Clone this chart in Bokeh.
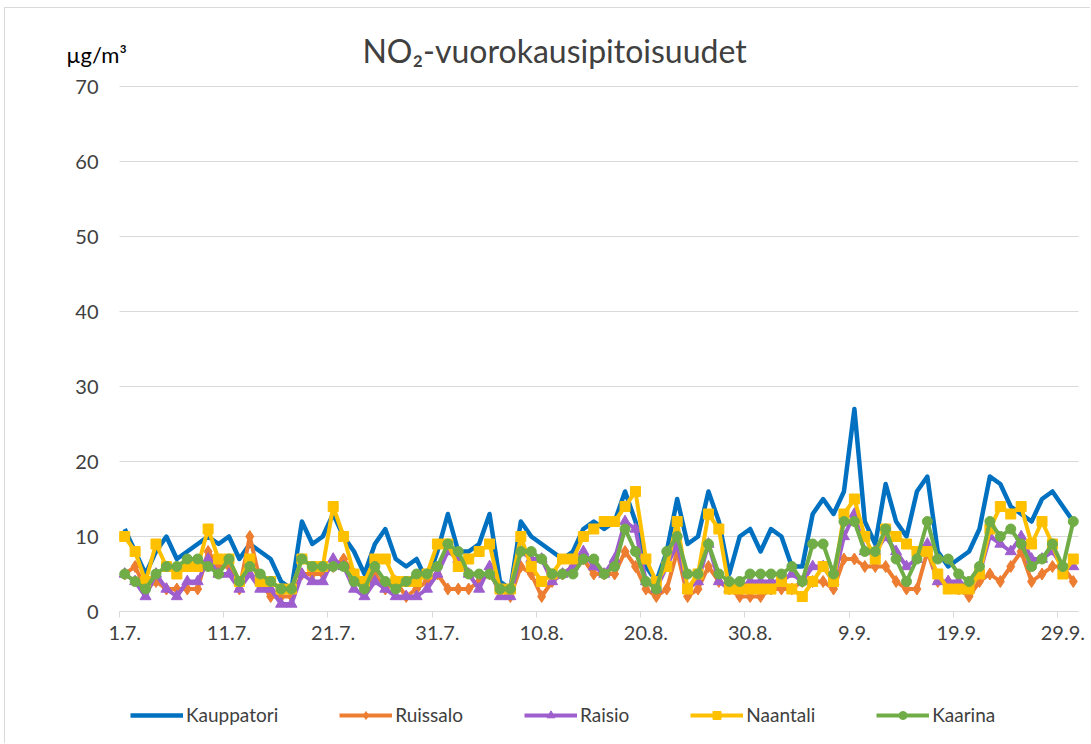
from bokeh.plotting import figure
from bokeh.models import (Range1d, FixedTicker, Legend, LegendItem, Label, LinearAxis,
                          ColumnDataSource, Grid)
from bokeh.embed import file_html
from bokeh.resources import INLINE

# ---- data ----
days = list(range(92))  # 1.7. ... 30.9.
tick_days = [0, 10, 20, 30, 40, 50, 60, 70, 80, 90]
tick_labels = ["1.7.", "11.7.", "21.7.", "31.7.", "10.8.", "20.8.", "30.8.", "9.9.", "19.9.", "29.9."]
y_ticks = [0, 10, 20, 30, 40, 50, 60, 70]

kauppatori = [11, 8, 5, 8, 10, 7, 8, 9, 10, 9,
              10, 7, 9, 8, 7, 4, 3, 12, 9, 10,
              13, 10, 8, 5, 9, 11, 7, 6, 7, 4,
              8, 13, 8, 8, 9, 13, 4, 3, 12, 10,
              9, 8, 7, 8, 11, 12, 11, 12, 16, 12,
              6, 4, 8, 15, 9, 10, 16, 12, 5, 10,
              11, 8, 11, 10, 6, 6, 13, 15, 13, 16,
              27, 12, 9, 17, 12, 10, 16, 18, 8, 6,
              7, 8, 11, 18, 17, 14, 13, 12, 15, 16,
              14, 12]
ruissalo = [5, 6, 3, 4, 3, 3, 3, 3, 8, 6,
            6, 3, 10, 4, 2, 2, 2, 5, 5, 5,
            6, 7, 5, 3, 5, 3, 4, 2, 3, 4,
            5, 3, 3, 3, 4, 5, 3, 2, 6, 5,
            2, 4, 5, 6, 7, 5, 5, 5, 8, 6,
            3, 2, 3, 8, 2, 3, 6, 4, 3, 2,
            2, 2, 3, 3, 3, 4, 4, 4, 3, 7,
            7, 6, 6, 6, 4, 3, 3, 8, 4, 4,
            3, 2, 4, 5, 4, 6, 8, 4, 5, 6,
            6, 4]
raisio = [5, 4, 2, 5, 3, 2, 4, 4, 7, 5,
          5, 3, 5, 3, 3, 1, 1, 5, 4, 4,
          7, 6, 3, 2, 4, 3, 2, 2, 2, 3,
          5, 8, 7, 5, 3, 6, 2, 2, 8, 7,
          7, 4, 5, 6, 8, 6, 5, 7, 12, 11,
          4, 3, 6, 9, 3, 4, 9, 4, 3, 3,
          4, 4, 4, 4, 5, 4, 6, 6, 4, 10,
          13, 8, 8, 10, 8, 6, 7, 9, 4, 4,
          4, 3, 5, 10, 9, 8, 10, 7, 7, 8,
          6, 6]
naantali = [10, 8, 4, 9, 6, 5, 6, 6, 11, 7,
            7, 4, 7, 4, 4, 3, 3, 7, 6, 6,
            14, 10, 5, 4, 7, 7, 4, 4, 4, 5,
            9, 9, 6, 7, 8, 9, 3, 3, 10, 6,
            4, 5, 7, 7, 10, 11, 12, 12, 14, 16,
            7, 4, 6, 12, 3, 5, 13, 11, 3, 3,
            3, 3, 3, 4, 3, 2, 4, 6, 4, 13,
            15, 10, 7, 11, 10, 9, 8, 8, 5, 3,
            3, 3, 5, 11, 14, 13, 14, 9, 12, 9,
            5, 7]
kaarina = [5, 4, 3, 5, 6, 6, 7, 7, 6, 5,
           7, 4, 6, 5, 4, 3, 3, 7, 6, 6,
           6, 6, 4, 3, 6, 4, 3, 4, 5, 5,
           6, 9, 8, 5, 5, 5, 3, 3, 8, 8,
           7, 5, 5, 5, 7, 7, 5, 6, 11, 8,
           4, 3, 8, 10, 5, 5, 9, 5, 4, 4,
           5, 5, 5, 5, 6, 4, 9, 9, 5, 12,
           12, 8, 8, 11, 7, 4, 7, 12, 7, 7,
           5, 4, 6, 12, 10, 11, 9, 6, 7, 9,
           6, 12]

series = [
    ("Kauppatori", kauppatori, "#0070C0", None, 0),
    ("Ruissalo", ruissalo, "#ED7D31", "diamond", 12),
    ("Raisio", raisio, "#9E5ECE", "triangle", 11),
    ("Naantali", naantali, "#FFC000", "square", 10),
    ("Kaarina", kaarina, "#70AD47", "circle", 10),
]

FONT = "Lato"
TXT = "#404040"

# ---- layout: the plot frame covers the whole canvas (1086 x 736);
# the data area (days -0.5..91.5, values 0..70) sits at 114..1073 px x 78..603 px
X0, X1 = -0.5, 91.5
Y0, Y1 = 0, 70
W, H = 1086, 736
L, R, T, B = 114, 13, 78, 133
xpx = (W - L - R) / (X1 - X0)
ypx = (H - T - B) / (Y1 - Y0)
x_lo, x_hi = X0 - L / xpx, X1 + R / xpx
y_lo, y_hi = Y0 - B / ypx, Y1 + T / ypx

p = figure(width=W, height=H, output_backend="svg", toolbar_location=None,
           x_range=Range1d(x_lo, x_hi), y_range=Range1d(y_lo, y_hi),
           min_border_left=0, min_border_right=0, min_border_top=0, min_border_bottom=0)
p.styles = {"margin-left": "4px", "margin-top": "7px",
            "border-left": "1px solid #d9d9d9", "border-top": "1px solid #d9d9d9"}
p.outline_line_color = None
p.background_fill_color = "white"
p.border_fill_color = "white"

p.xgrid.visible = False

p.yaxis.fixed_location = X0
p.yaxis.ticker = FixedTicker(ticks=y_ticks)
p.yaxis.axis_line_color = None
p.yaxis.minor_tick_line_color = None
p.yaxis.major_tick_out = 0
p.yaxis.major_label_standoff = 21
p.yaxis.major_label_text_font = FONT
p.yaxis.major_label_text_font_size = "20px"
p.yaxis.major_label_text_color = TXT

if "cross_bounds" in Grid.properties():
    p.ygrid.grid_line_color = "#d9d9d9"
    p.ygrid.grid_line_width = 1
    p.ygrid.cross_bounds = (X0, X1)
    p.yaxis.major_tick_line_color = None
    p.yaxis.major_tick_in = 0
else:
    # draw the horizontal gridlines as long inward ticks of the value axis
    p.ygrid.visible = False
    p.yaxis.major_tick_in = int(round((X1 - X0) * xpx))
    p.yaxis.major_tick_line_color = "#d9d9d9"
    p.yaxis.major_tick_line_width = 1
    p.yaxis.level = "underlay"

p.xaxis.fixed_location = Y0
p.xaxis.bounds = (X0, X1)
p.xaxis.ticker = FixedTicker(ticks=tick_days, minor_ticks=[d - 0.5 for d in tick_days])
p.xaxis.major_label_overrides = {d: l for d, l in zip(tick_days, tick_labels)}
p.xaxis.axis_line_color = "#d9d9d9"
p.xaxis.axis_line_width = 1
p.xaxis.major_tick_line_color = None
p.xaxis.major_tick_out = 0
p.xaxis.major_tick_in = 0
p.xaxis.minor_tick_line_color = "#d9d9d9"
p.xaxis.minor_tick_out = 6
p.xaxis.minor_tick_in = 0
p.xaxis.major_label_standoff = 8
p.xaxis.major_label_text_font = FONT
p.xaxis.major_label_text_font_size = "20px"
p.xaxis.major_label_text_color = TXT

# unit text at the top-left of the value axis
unit_pos = 74.3
unit_axis = LinearAxis(fixed_location=0.2, ticker=FixedTicker(ticks=[unit_pos]),
                       major_label_overrides={unit_pos: "\u00b5g/m\u00b3"},
                       axis_line_color=None, major_tick_line_color=None,
                       minor_tick_line_color=None, major_tick_out=0, major_tick_in=0,
                       major_label_standoff=0, major_label_text_font=FONT,
                       major_label_text_font_size="22px", major_label_text_color="#000000")
p.add_layout(unit_axis, "left")

items = []
for name, vals, color, marker, size in series:
    src = ColumnDataSource(dict(x=days, y=vals))
    rs = [p.line("x", "y", source=src, line_color=color,
                 line_width=4.5 if marker is None else 4, line_join="round")]
    if marker is not None:
        rs.append(p.scatter("x", "y", source=src, marker=marker, size=size,
                            fill_color=color, line_color=color))
    items.append(LegendItem(label=name, renderers=rs))

legend = Legend(items=items, orientation="horizontal", location=(125, 18),
                glyph_width=53, glyph_height=20, label_standoff=3, spacing=61,
                padding=0, margin=0, border_line_color=None, background_fill_alpha=0,
                label_text_font=FONT, label_text_font_size="19px", label_text_color=TXT)
p.add_layout(legend)

title = Label(x=22.8, y=74.8, text="NO\u2082-vuorokausipitoisuudet", text_font=FONT,
              text_font_size="32px", text_color=TXT, text_align="left",
              text_baseline="alphabetic")
p.add_layout(title)

open("out.html", "w").write(file_html(p, INLINE))
